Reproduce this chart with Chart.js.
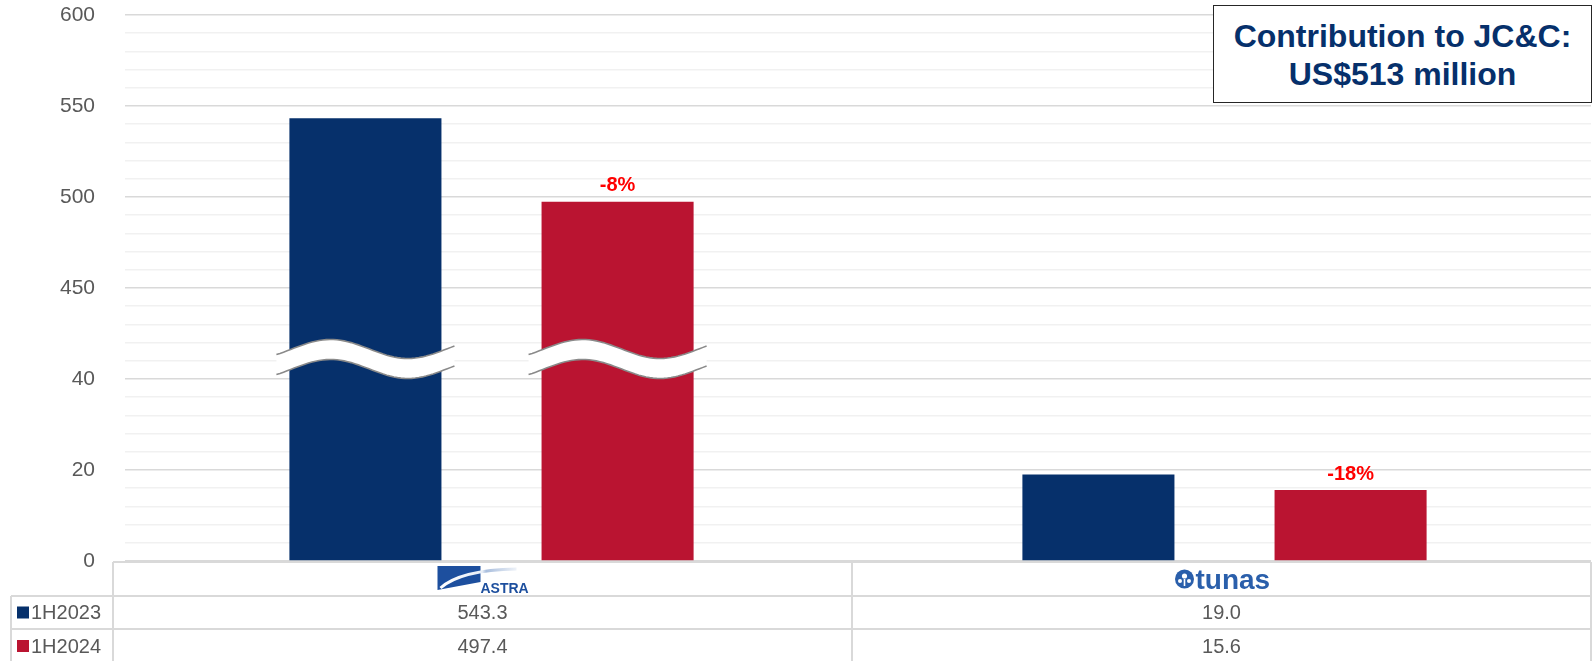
<!DOCTYPE html>
<html>
<head>
<meta charset="utf-8">
<script src="https://cdn.jsdelivr.net/npm/chart.js@4.4.1/dist/chart.umd.min.js"></script>
<style>
  html, body { margin: 0; padding: 0; background: #fff; }
  #wrap { position: relative; width: 1593px; height: 661px; overflow: hidden; }
  #title {
    position: absolute; left: 1213px; top: 5px; width: 379px; height: 98px;
    box-sizing: border-box; border: 1.5px solid #262626; background: #fff;
    font: bold 32px "Liberation Sans", Arial, sans-serif; color: #06306b;
    text-align: center; line-height: 38px; padding-top: 11px;
  }
</style>
</head>
<body>
<div id="wrap">
  <canvas id="chart" width="1593" height="661"></canvas>
  <div id="title">Contribution to JC&amp;C:<br>US$513 million</div>
</div>
<script>
const categories = ['ASTRA', 'tunas'];
const seriesNames = ['1H2023', '1H2024'];
const values1H2023 = [543.3, 19.0];
const values1H2024 = [497.4, 15.6];
const changeLabels = ['-8%', '-18%'];
const yTickLabels = [0, 20, 40, 450, 500, 550, 600];

const blue = '#06306b';
const red = '#ba1431';
const grey = '#595959';
const breakAt = 2.22; // axis position of the break (between 40 and 450)

// piecewise axis: each tick label interval gets one unit
function toAxis(v) {
  for (let i = 0; i < yTickLabels.length - 1; i++) {
    if (v <= yTickLabels[i + 1]) return i + (v - yTickLabels[i]) / (yTickLabels[i + 1] - yTickLabels[i]);
  }
  return yTickLabels.length - 1;
}

Chart.defaults.font.family = '"Liberation Sans", Arial, sans-serif';

function drawAstra(ctx, cx, cy) {
  ctx.fillStyle = '#1d4f9e';
  ctx.beginPath();
  ctx.moveTo(cx - 45, cy - 13);
  ctx.lineTo(cx - 2, cy - 13);
  ctx.lineTo(cx - 2, cy + 3);
  ctx.lineTo(cx - 45, cy + 11);
  ctx.closePath();
  ctx.fill();
  const g = ctx.createLinearGradient(cx - 42, 0, cx + 34, 0);
  g.addColorStop(0, '#ffffff');
  g.addColorStop(0.55, '#e8eef7');
  g.addColorStop(0.6, '#a9bedd');
  g.addColorStop(1, '#eef2f8');
  ctx.strokeStyle = g;
  ctx.lineWidth = 3;
  ctx.beginPath();
  ctx.moveTo(cx - 42, cy + 9);
  ctx.quadraticCurveTo(cx - 22, cy - 9, cx + 34, cy - 10);
  ctx.stroke();
  ctx.fillStyle = '#1d4f9e';
  ctx.font = 'bold 14px "Liberation Sans", Arial, sans-serif';
  ctx.textAlign = 'left';
  ctx.textBaseline = 'alphabetic';
  ctx.fillText('ASTRA', cx - 2, cy + 14);
}

function drawTunas(ctx, cx, cy) {
  const ix = cx - 37, iy = cy;
  ctx.fillStyle = '#2a5fab';
  ctx.beginPath();
  ctx.arc(ix, iy, 9.5, 0, Math.PI * 2);
  ctx.fill();
  ctx.fillStyle = '#fff';
  ctx.beginPath(); ctx.arc(ix, iy - 3, 2.6, 0, Math.PI * 2); ctx.fill();
  ctx.beginPath(); ctx.arc(ix - 4.5, iy + 2, 2, 0, Math.PI * 2); ctx.fill();
  ctx.beginPath(); ctx.arc(ix + 4.5, iy + 2, 2, 0, Math.PI * 2); ctx.fill();
  ctx.fillRect(ix - 0.8, iy, 1.6, 7);
  ctx.fillStyle = '#2a5fab';
  ctx.font = 'bold 28px "Liberation Sans", Arial, sans-serif';
  ctx.textAlign = 'left';
  ctx.textBaseline = 'alphabetic';
  ctx.fillText('tunas', cx - 26, cy + 10);
}

const logoDrawers = { ASTRA: drawAstra, tunas: drawTunas };

const breakPlugin = {
  id: 'axisBreak',
  afterDatasetsDraw(chart) {
    const ctx = chart.ctx;
    const yc = chart.scales.y.getPixelForValue(breakAt);
    chart.data.datasets.forEach((ds, di) => {
      chart.getDatasetMeta(di).data.forEach((bar, i) => {
        if (ds.data[i] <= breakAt) return;
        const x0 = bar.x - bar.width / 2 - 13, x1 = bar.x + bar.width / 2 + 13;
        const wave = (off) => {
          const pts = [];
          for (let t = 0; t <= 1.0001; t += 0.02) {
            pts.push([x0 + t * (x1 - x0), yc + off - 9.5 * Math.sin(-0.2 * Math.PI + t * 2.3 * Math.PI)]);
          }
          return pts;
        };
        const up = wave(-10), lo = wave(10);
        ctx.save();
        ctx.fillStyle = '#fff';
        ctx.beginPath();
        up.forEach((p, k) => k ? ctx.lineTo(p[0], p[1]) : ctx.moveTo(p[0], p[1]));
        lo.slice().reverse().forEach(p => ctx.lineTo(p[0], p[1]));
        ctx.closePath();
        ctx.fill();
        ctx.strokeStyle = '#8a8a8a';
        ctx.lineWidth = 1.6;
        [up, lo].forEach(line => {
          ctx.beginPath();
          line.forEach((p, k) => k ? ctx.lineTo(p[0], p[1]) : ctx.moveTo(p[0], p[1]));
          ctx.stroke();
        });
        ctx.restore();
      });
    });
  }
};

const changePlugin = {
  id: 'changeLabels',
  afterDatasetsDraw(chart) {
    const ctx = chart.ctx;
    ctx.save();
    ctx.fillStyle = '#ff0000';
    ctx.font = 'bold 20px "Liberation Sans", Arial, sans-serif';
    ctx.textAlign = 'center';
    ctx.textBaseline = 'middle';
    chart.getDatasetMeta(1).data.forEach((bar, i) => {
      ctx.fillText(changeLabels[i], bar.x, bar.y - 16);
    });
    ctx.restore();
  }
};

const tablePlugin = {
  id: 'dataTable',
  afterDraw(chart) {
    const ctx = chart.ctx, a = chart.chartArea;
    const top = a.bottom + 1;
    const rows = [34, 33, 34];
    const left = 11, firstR = a.left - 12, right = a.right;
    const colW = (right - firstR) / categories.length;
    const r1 = top + rows[0], r2 = r1 + rows[1], bottom = r2 + rows[2];
    ctx.save();
    ctx.strokeStyle = '#d9d9d9';
    ctx.lineWidth = 2;
    ctx.beginPath();
    ctx.moveTo(firstR, top); ctx.lineTo(right, top);
    ctx.moveTo(left, r1); ctx.lineTo(right, r1);
    ctx.moveTo(left, r2); ctx.lineTo(right, r2);
    ctx.moveTo(left, r1); ctx.lineTo(left, bottom);
    for (let c = 0; c <= categories.length; c++) {
      const x = firstR + c * colW;
      ctx.moveTo(x, top); ctx.lineTo(x, bottom);
    }
    ctx.stroke();

    categories.forEach((cat, c) => {
      const cx = firstR + (c + 0.5) * colW;
      logoDrawers[cat](ctx, cx, top + rows[0] / 2);
    });

    const rowData = [values1H2023, values1H2024];
    const colors = [blue, red];
    [r1, r2].forEach((ry, k) => {
      const cy = ry + rows[k + 1] / 2;
      ctx.fillStyle = colors[k];
      ctx.fillRect(17, cy - 6, 12, 12);
      ctx.fillStyle = grey;
      ctx.font = '20px "Liberation Sans", Arial, sans-serif';
      ctx.textBaseline = 'middle';
      ctx.textAlign = 'left';
      ctx.fillText(seriesNames[k], 31, cy + 1);
      ctx.textAlign = 'center';
      rowData[k].forEach((v, c) => {
        ctx.fillText(v.toFixed(1), firstR + (c + 0.5) * colW, cy + 1);
      });
    });
    ctx.restore();
  }
};

new Chart(document.getElementById('chart'), {
  type: 'bar',
  data: {
    labels: categories,
    datasets: [
      { label: seriesNames[0], data: values1H2023.map(toAxis), backgroundColor: blue },
      { label: seriesNames[1], data: values1H2024.map(toAxis), backgroundColor: red }
    ]
  },
  options: {
    responsive: false,
    animation: false,
    devicePixelRatio: 1,
    layout: { padding: { top: 15, bottom: 100, right: 2, left: 0 } },
    categoryPercentage: 0.688,
    barPercentage: 0.603,
    plugins: { legend: { display: false }, tooltip: { enabled: false } },
    scales: {
      x: { display: false },
      y: {
        min: 0,
        max: yTickLabels.length - 1,
        afterBuildTicks: s => {
          s.ticks = Array.from({ length: (yTickLabels.length - 1) * 5 + 1 }, (_, i) => ({ value: i / 5 }));
        },
        afterFit: s => {
          s.width = 125;
          s.paddingTop = 12;
          s.paddingBottom = 12;
        },
        border: { display: false },
        grid: {
          drawTicks: false,
          lineWidth: 1.5,
          color: c => (c.index % 5 === 0 ? '#d9d9d9' : '#f1f1f1')
        },
        ticks: {
          autoSkip: false,
          padding: 30,
          color: grey,
          font: { size: 21 },
          callback: (v, i) => (i % 5 === 0 ? String(yTickLabels[i / 5]) : '')
        }
      }
    }
  },
  plugins: [breakPlugin, changePlugin, tablePlugin]
});
</script>
</body>
</html>
